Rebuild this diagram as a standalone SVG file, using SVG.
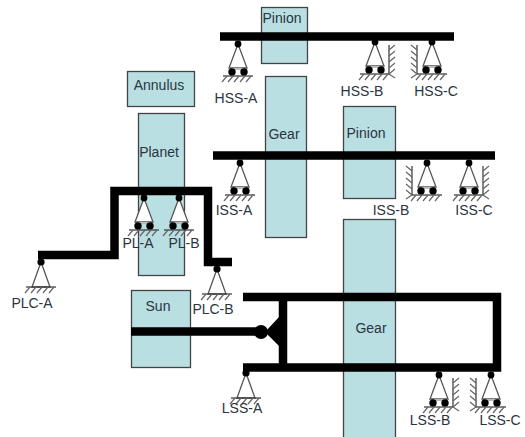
<svg xmlns="http://www.w3.org/2000/svg" width="525" height="437" viewBox="0 0 525 437">
<style>
text{font-family:"Liberation Sans",Arial,sans-serif;font-size:14px;fill:#2b3440;text-anchor:middle}
.gear{fill:#b9dfe3;stroke:#444;stroke-width:1.3}
.shaft{fill:none;stroke:#000;stroke-width:8.5}
.tri{fill:#fff;stroke:#555;stroke-width:1.3}
.g{fill:none;stroke:#333;stroke-width:1.2}
.h{fill:none;stroke:#666;stroke-width:1.2}
</style>
<defs>
<g id="hatch"><path class="g" d="M-15 0H15"/><path class="h" d="M-11 0l-5 6M-5 0l-5 6M1 0l-5 6M7 0l-5 6M13 0l-5 6"/></g>
<g id="fixed"><path class="tri" d="M0 0L-9 25H9Z"/><circle r="3.6"/><use href="#hatch" y="25"/></g>
<g id="roller"><path class="tri" d="M0 0L-9 24H9Z"/><path d="M-6 25H6" stroke="#bbb" stroke-width="2"/><circle r="3.4"/><circle cx="-6" cy="28" r="3.7"/><circle cx="6" cy="28" r="3.7"/><use href="#hatch" y="32"/></g>
<g id="wallR"><path class="g" d="M14 32V3"/><path class="h" d="M14 8l6-5M14 14l6-5M14 20l6-5M14 26l6-5M14 32l6-5M14 32l6 4"/></g>
<g id="wallL"><path class="g" d="M-15 32V3"/><path class="h" d="M-15 8l-6-5M-15 14l-6-5M-15 20l-6-5M-15 26l-6-5M-15 32l-6-5M-15 32l-6 4"/></g>
</defs>

<g id="annulus"><rect class="gear" x="127.500" y="71.500" width="67" height="35"/><text x="159" y="90">Annulus</text></g>
<g id="planet"><rect class="gear" x="138.500" y="113.500" width="46" height="162"/><text x="159" y="157">Planet</text></g>
<g id="sun"><rect class="gear" x="131.500" y="290.500" width="59" height="77"/><text x="158" y="311">Sun</text></g>
<g id="hss-pinion"><rect class="gear" x="261.500" y="7.500" width="46" height="56"/><text x="282" y="23">Pinion</text></g>
<g id="iss-gear"><rect class="gear" x="265.500" y="76.500" width="41" height="161"/><text x="284" y="139">Gear</text></g>
<g id="iss-pinion"><rect class="gear" x="343.500" y="106.500" width="52" height="92"/><text x="366" y="138">Pinion</text></g>
<g id="lss-gear"><rect class="gear" x="343.500" y="219.500" width="52" height="219"/><text x="371" y="333">Gear</text></g>

<g id="connectors">
<path class="shaft" d="M220 36.500H454"/>
<path class="shaft" d="M213 155.500H495"/>
<path class="shaft" d="M38 255H114.500V191H208V262H232"/>
<path class="shaft" d="M131 331.500H262"/>
<path class="shaft" d="M243 297H497V367.500H243"/>
<path class="shaft" d="M283 297V367"/>
<path d="M280 316L265 332L280 347Z"/>
<circle cx="261" cy="332" r="7"/>
</g>

<g id="hss-a"><use href="#roller" x="238" y="44"/><text x="236" y="103">HSS-A</text></g>
<g id="hss-b"><use href="#roller" x="375" y="42"/><use href="#wallR" x="375" y="42"/><text x="362" y="96">HSS-B</text></g>
<g id="hss-c"><use href="#roller" x="432" y="42"/><use href="#wallL" x="432" y="42"/><text x="436" y="96">HSS-C</text></g>
<g id="iss-a"><use href="#roller" x="240" y="163"/><text x="234" y="215">ISS-A</text></g>
<g id="iss-b"><use href="#roller" x="427" y="163"/><use href="#wallL" x="427" y="163"/><text x="391" y="215">ISS-B</text></g>
<g id="iss-c"><use href="#roller" x="469" y="163"/><use href="#wallR" x="469" y="163"/><text x="474" y="215">ISS-C</text></g>
<g id="pl-a"><use href="#roller" x="144" y="198"/><text x="138" y="248">PL-A</text></g>
<g id="pl-b"><use href="#roller" x="179" y="198"/><text x="184" y="248">PL-B</text></g>
<g id="plc-a"><use href="#fixed" x="41" y="262"/><text x="32" y="308">PLC-A</text></g>
<g id="plc-b"><use href="#fixed" x="217" y="269"/><text x="213" y="314">PLC-B</text></g>
<g id="lss-a"><use href="#fixed" x="246" y="373"/><text x="242" y="413">LSS-A</text></g>
<g id="lss-b"><use href="#roller" x="439" y="375"/><use href="#wallR" x="439" y="375"/><text x="430" y="425">LSS-B</text></g>
<g id="lss-c"><use href="#roller" x="491" y="375"/><use href="#wallL" x="491" y="375"/><text x="500" y="425">LSS-C</text></g>
</svg>
